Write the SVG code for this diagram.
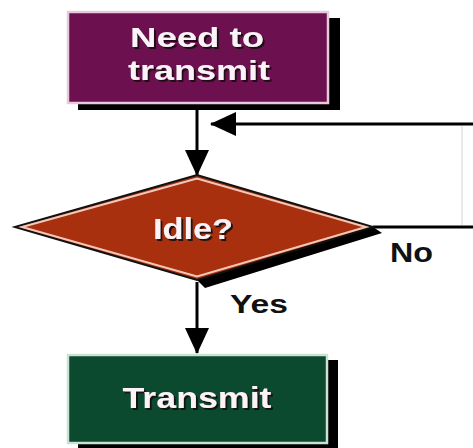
<svg xmlns="http://www.w3.org/2000/svg" width="473" height="448" viewBox="0 0 473 448">
  <style>
    .lbl { font-family: "Liberation Sans", Arial, sans-serif; font-weight: bold; }
    .in { fill: #fbf3f8; filter: url(#drop); }
    .out { fill: #111; }
    .wire { stroke: #000; stroke-width: 3; fill: none; }
  </style>
  <defs>
    <filter id="drop" x="-20%" y="-30%" width="140%" height="160%">
      <feDropShadow dx="2" dy="2" stdDeviation="0.7" flood-color="#140810" flood-opacity="0.9"/>
    </filter>
    <marker id="head" viewBox="0 0 26 24" refX="25" refY="12" markerWidth="26" markerHeight="24" markerUnits="userSpaceOnUse" orient="auto">
      <path d="M0,0 L26,12 L0,24 Z" fill="#000"/>
    </marker>
  </defs>
  <rect width="473" height="448" fill="#fff"/>

  <!-- connectors -->
  <g id="connectors">
    <line class="wire" x1="197" y1="105" x2="197" y2="175" marker-end="url(#head)"/>
    <line class="wire" x1="473" y1="124" x2="211" y2="124" marker-end="url(#head)"/>
    <line class="wire" x1="373" y1="227" x2="473" y2="227"/>
    <line x1="462" y1="126" x2="462" y2="225" stroke="#e2e2e2" stroke-width="1.5"/>
    <line class="wire" x1="197" y1="282" x2="197" y2="353" marker-end="url(#head)"/>
    <text class="lbl out" x="390" y="262" font-size="28" textLength="43" lengthAdjust="spacingAndGlyphs">No</text>
    <text class="lbl out" x="230" y="313" font-size="25" textLength="58" lengthAdjust="spacingAndGlyphs">Yes</text>
  </g>

  <!-- start node -->
  <g id="need">
    <rect x="78" y="18" width="262" height="92" fill="#000"/>
    <rect x="68" y="12" width="260" height="91" fill="#6c1050" stroke="#e7c9dc" stroke-width="2.5"/>
    <text class="lbl in" x="197" y="47" font-size="27" text-anchor="middle" textLength="134" lengthAdjust="spacingAndGlyphs">Need to</text>
    <text class="lbl in" x="199" y="80" font-size="27" text-anchor="middle" textLength="142" lengthAdjust="spacingAndGlyphs">transmit</text>
  </g>

  <!-- decision node -->
  <g id="idle">
    <polygon points="373,227 382,233 205,288 197,280" fill="#000"/>
    <polygon points="15,227 197,175 373,227 197,280" fill="#a8300f" stroke="#111" stroke-width="2"/>
    <polygon points="22,227 197,178.5 366,227 197,276.5" fill="none" stroke="#f3c8b8" stroke-width="2"/>
    <text class="lbl in" x="193" y="239" font-size="29" text-anchor="middle" textLength="80" lengthAdjust="spacingAndGlyphs">Idle?</text>
  </g>

  <!-- action node -->
  <g id="transmit">
    <rect x="78" y="360" width="260" height="90" fill="#000"/>
    <rect x="68" y="355" width="259" height="88" fill="#0b4a2e" stroke="#c9e2d3" stroke-width="2.5"/>
    <text class="lbl in" x="197" y="408" font-size="29" text-anchor="middle" textLength="149" lengthAdjust="spacingAndGlyphs">Transmit</text>
  </g>
</svg>
